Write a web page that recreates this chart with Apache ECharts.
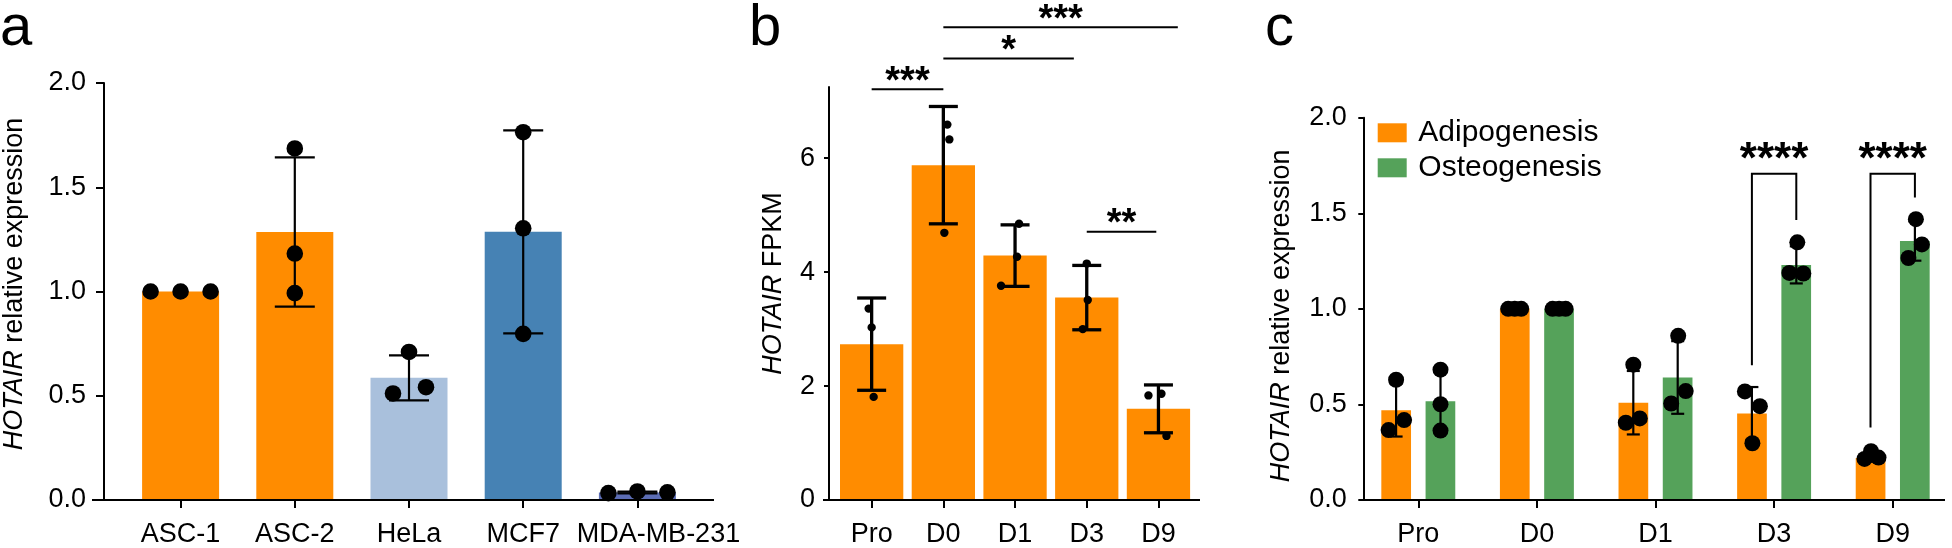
<!DOCTYPE html>
<html>
<head>
<meta charset="utf-8">
<script src="https://cdn.jsdelivr.net/npm/echarts@6/dist/echarts.min.js"></script>
<style>
  html, body { margin: 0; padding: 0; background: #fff; }
  #main { width: 1952px; height: 548px; }
</style>
</head>
<body>
<div id="main"></div>
<script>
// ---- panel a : cell lines
var catA = ['ASC-1', 'ASC-2', 'HeLa', 'MCF7', 'MDA-MB-231'];
var meanA = [1.0, 1.285, 0.586, 1.286, 0.036];
var sdA = [0, 0.358, 0.108, 0.487, 0.004];
var ptsA = [[1.0, 1.0, 1.0], [1.686, 1.182, 0.992], [0.710, 0.541, 0.511], [1.764, 1.303, 0.797], [0.033, 0.041, 0.037]];
var ticksA = [0, 0.5, 1.0, 1.5, 2.0];

// ---- panel b : FPKM time course
var catB = ['Pro', 'D0', 'D1', 'D3', 'D9'];
var meanB = [2.736, 5.878, 4.29, 3.553, 1.6];
var sdB = [0.81, 1.03, 0.54, 0.565, 0.42];
var ptsB = [[3.36, 3.03, 1.81], [6.59, 6.33, 4.69], [4.85, 4.27, 3.76], [4.15, 3.51, 3.0], [1.836, 1.866, 1.125]];
var ticksB = [0, 2, 4, 6];
var sigBFrom = [0, 1, 1, 3];
var sigBTo = [1, 2.82, 4.27, 3.97];
var sigBY = [7.21, 7.75, 8.30, 4.71];
var sigBText = ['***', '*', '***', '**'];

// ---- panel c : differentiation
var catC = ['Pro', 'D0', 'D1', 'D3', 'D9'];
var adipoMean = [0.470, 1.0, 0.509, 0.453, 0.22];
var adipoSd = [0.138, 0, 0.166, 0.138, 0.02];
var adipoPts = [[0.629, 0.418, 0.366], [1, 1, 1], [0.708, 0.427, 0.404], [0.568, 0.491, 0.297], [0.255, 0.215, 0.222]];
var osteoMean = [0.517, 1.0, 0.641, 1.230, 1.355];
var osteoSd = [0.16, 0, 0.19, 0.097, 0.103];
var osteoPts = [[0.682, 0.501, 0.363], [1, 1, 1], [0.859, 0.570, 0.505], [1.348, 1.188, 1.185], [1.469, 1.337, 1.266]];
var ticksC = [0, 0.5, 1.0, 1.5, 2.0];
var sigCCat = [3, 4];
var sigCLeft = [0.705, 0.379];
var sigCTop = [1.707, 1.707];
var sigCRight = [1.465, 1.583];
var sigCText = ['****', '****'];

// styling
var FONT = '"Liberation Sans", Arial, Helvetica, sans-serif';
var ORANGE = '#FF8C00';
var GREEN = '#55A25A';
var colorsA = [ORANGE, ORANGE, '#A9C0DC', '#4682B4', '#5C6DB4'];
// horizontal scatter of the dots, pixels
var jitA = [[-30, 0, 30], [0, 0, 0], [0, 17, -16], [0, 0, 0], [-29, 0, 30]];
var jitB = [[-3, 0, 2], [4, 6, 1], [4, 2, -14], [0, 1, -4], [-10, 3, 8]];
var jitAdipo = [[0, 8, -7.5], [-6.5, 0, 6.5], [0, 6.5, -7.5], [-7, 8, 0.5], [0.5, -6, 8]];
var jitOsteo = [[0, 0, 0], [-6.5, 0, 6.5], [0.5, 8, -6.5], [1, -7, 7], [1, 7, -6.5]];
var offC = 22.2;

function flat(pts) {
  var out = [];
  pts.forEach(function (row, i) {
    row.forEach(function (v, k) { out.push([i, v, k]); });
  });
  return out;
}

function errorBars(sd, offset, capHalf, lw) {
  return function (params, api) {
    var s = sd[params.dataIndex];
    if (!s) return null;
    var c = api.value(0), m = api.value(1);
    var hi = api.coord([c, m + s]);
    var lo = api.coord([c, m - s]);
    var x = hi[0] + offset;
    var st = { stroke: '#000', lineWidth: lw };
    return {
      type: 'group', children: [
        { type: 'line', shape: { x1: x, y1: hi[1], x2: x, y2: lo[1] }, style: st },
        { type: 'line', shape: { x1: x - capHalf, y1: hi[1], x2: x + capHalf, y2: hi[1] }, style: st },
        { type: 'line', shape: { x1: x - capHalf, y1: lo[1], x2: x + capHalf, y2: lo[1] }, style: st }
      ]
    };
  };
}

function dots(jit, offset, r) {
  return function (params, api) {
    var c = api.value(0);
    var p = api.coord([c, api.value(1)]);
    var j = jit[c][api.value(2)];
    return { type: 'circle', shape: { cx: p[0] + offset + j, cy: p[1], r: r }, style: { fill: '#000' } };
  };
}

function sigB(params, api) {
  var i = params.dataIndex;
  var p0 = api.coord([0, sigBY[i]]);
  var bw = api.size([1, 0])[0];
  var xa = p0[0] + sigBFrom[i] * bw, xb = p0[0] + sigBTo[i] * bw;
  return {
    type: 'group', children: [
      { type: 'line', shape: { x1: xa, y1: p0[1], x2: xb, y2: p0[1] }, style: { stroke: '#000', lineWidth: 2 } },
      { type: 'text', x: (xa + xb) / 2, y: p0[1] - 7,
        style: { text: sigBText[i], fontSize: 38, fontWeight: 'bold', fontFamily: FONT, fill: '#000', align: 'center', verticalAlign: 'middle' } }
    ]
  };
}

function sigC(params, api) {
  var i = params.dataIndex, c = sigCCat[i];
  var t = api.coord([c, sigCTop[i]]);
  var l = api.coord([c, sigCLeft[i]]);
  var r = api.coord([c, sigCRight[i]]);
  var xl = t[0] - offC, xr = t[0] + offC;
  return {
    type: 'group', children: [
      { type: 'polyline', shape: { points: [[xl, l[1]], [xl, t[1]], [xr, t[1]], [xr, r[1]]] },
        style: { stroke: '#000', lineWidth: 2, fill: null } },
      { type: 'text', x: (xl + xr) / 2, y: t[1] - 13,
        style: { text: sigCText[i], fontSize: 44, fontWeight: 'bold', fontFamily: FONT, fill: '#000', align: 'center', verticalAlign: 'middle' } }
    ]
  };
}

function yAxisOf(idx, max, interval, ticks, offset, tickLen, margin, name, nameGap, namePad) {
  return {
    type: 'value', gridIndex: idx, min: 0, max: max, interval: interval, offset: offset,
    axisLine: { show: true, lineStyle: { color: '#000', width: 2 } },
    axisTick: { show: true, length: tickLen, customValues: ticks, lineStyle: { color: '#000', width: 2 } },
    axisLabel: {
      customValues: ticks, margin: margin, fontSize: 27, fontFamily: FONT, color: '#000',
      formatter: function (v) { return interval === 0.5 ? v.toFixed(1) : String(v); }
    },
    splitLine: { show: false },
    name: name, nameLocation: 'middle', nameGap: nameGap,
    nameTextStyle: { fontSize: 27, fontFamily: FONT, color: '#000', padding: namePad,
      rich: { i: { fontStyle: 'italic', fontSize: 27, fontFamily: FONT, color: '#000' } } }
  };
}

function xAxisOf(idx, cats) {
  return {
    type: 'category', gridIndex: idx, data: cats,
    axisLine: { show: false },
    axisTick: { show: true, alignWithLabel: true, length: 8, lineStyle: { color: '#000', width: 2 } },
    axisLabel: { margin: 21, fontSize: 27, fontFamily: FONT, color: '#000', interval: 0, hideOverlap: false }
  };
}

var chart = echarts.init(document.getElementById('main'));

var xA = xAxisOf(0, catA);
// the long last name is nudged right so it clears MCF7
xA.data = catA.map(function (c, i) {
  return i === catA.length - 1 ? { value: c, textStyle: { padding: [0, 0, 0, 42] } } : c;
});

var option = {
  animation: false,
  textStyle: { fontFamily: FONT },
  grid: [
    { left: 119.5, top: 83, width: 575, height: 422 },
    { left: 835.8, top: 87, width: 358.5, height: 417 },
    { left: 1359, top: 117.7, width: 593, height: 386 }
  ],
  xAxis: [xA, xAxisOf(1, catB), xAxisOf(2, catC)],
  yAxis: [
    yAxisOf(0, 2, 0.5, ticksA, 19.5, 8, 18, '{i|HOTAIR} relative expression', 76, [0, 0, 0, 15]),
    yAxisOf(1, 7.25, 2, ticksB, 6.8, 5, 14, '{i|HOTAIR} FPKM', 42, [0, 0, 0, 20]),
    yAxisOf(2, 2, 0.5, ticksC, -4.3, 5, 16.6, '{i|HOTAIR} relative expression', 68, [0, 14, 0, 0])
  ],
  legend: {
    data: ['Adipogenesis', 'Osteogenesis'], orient: 'vertical', left: 1372.7, top: 112.8,
    icon: 'rect', itemWidth: 29, itemHeight: 19, itemGap: 5,
    textStyle: { fontSize: 30, lineHeight: 30, fontFamily: FONT, color: '#000', padding: [0, 0, 0, 6.6] }
  },
  series: [
    // a
    { type: 'bar', xAxisIndex: 0, yAxisIndex: 0, barWidth: 77,
      data: meanA.map(function (v, i) { return { value: v, itemStyle: { color: colorsA[i] } }; }) },
    { type: 'custom', xAxisIndex: 0, yAxisIndex: 0, z: 3, clip: false,
      data: meanA.map(function (v, i) { return [i, v]; }), renderItem: errorBars(sdA, 0, 20, 2.2) },
    { type: 'custom', xAxisIndex: 0, yAxisIndex: 0, z: 4, clip: false,
      data: flat(ptsA), renderItem: dots(jitA, 0, 8.3) },
    // b
    { type: 'bar', xAxisIndex: 1, yAxisIndex: 1, barWidth: 63.3, itemStyle: { color: ORANGE }, data: meanB },
    { type: 'custom', xAxisIndex: 1, yAxisIndex: 1, z: 3, clip: false,
      data: meanB.map(function (v, i) { return [i, v]; }), renderItem: errorBars(sdB, 0, 14.5, 3.3) },
    { type: 'custom', xAxisIndex: 1, yAxisIndex: 1, z: 4, clip: false,
      data: flat(ptsB), renderItem: dots(jitB, 0, 4.2) },
    { type: 'custom', xAxisIndex: 1, yAxisIndex: 1, z: 4, clip: false,
      data: sigBY.map(function (y, i) { return [sigBFrom[i], y]; }), renderItem: sigB },
    // c
    { name: 'Adipogenesis', type: 'bar', xAxisIndex: 2, yAxisIndex: 2, barWidth: 29.7, barGap: '49%',
      itemStyle: { color: ORANGE }, data: adipoMean },
    { name: 'Osteogenesis', type: 'bar', xAxisIndex: 2, yAxisIndex: 2, barWidth: 29.7, barGap: '49%',
      itemStyle: { color: GREEN }, data: osteoMean },
    { type: 'custom', xAxisIndex: 2, yAxisIndex: 2, z: 3, clip: false,
      data: adipoMean.map(function (v, i) { return [i, v]; }), renderItem: errorBars(adipoSd, -offC, 6.5, 2.2) },
    { type: 'custom', xAxisIndex: 2, yAxisIndex: 2, z: 3, clip: false,
      data: osteoMean.map(function (v, i) { return [i, v]; }), renderItem: errorBars(osteoSd, offC, 6.5, 2.2) },
    { type: 'custom', xAxisIndex: 2, yAxisIndex: 2, z: 4, clip: false,
      data: flat(adipoPts), renderItem: dots(jitAdipo, -offC, 8) },
    { type: 'custom', xAxisIndex: 2, yAxisIndex: 2, z: 4, clip: false,
      data: flat(osteoPts), renderItem: dots(jitOsteo, offC, 8) },
    { type: 'custom', xAxisIndex: 2, yAxisIndex: 2, z: 4, clip: false,
      data: sigCTop.map(function (y, i) { return [sigCCat[i], y]; }), renderItem: sigC }
  ]
};
chart.setOption(option);

// baselines run a little past the grids, like the original plots
function baseline(yIdx, x1, x2) {
  var y = chart.convertToPixel({ yAxisIndex: yIdx }, 0);
  return { type: 'line', z: 10, shape: { x1: x1, y1: y, x2: x2, y2: y }, style: { stroke: '#000', lineWidth: 2 } };
}
function letter(t, x) {
  return { type: 'text', x: x, y: 29, style: { text: t, fontSize: 58, fontFamily: FONT, fill: '#000', verticalAlign: 'middle' } };
}
chart.setOption({
  graphic: [
    letter('a', 0), letter('b', 749), letter('c', 1265),
    baseline(0, 92, 714), baseline(1, 823, 1200), baseline(2, 1360, 1945)
  ]
});
</script>
</body>
</html>
